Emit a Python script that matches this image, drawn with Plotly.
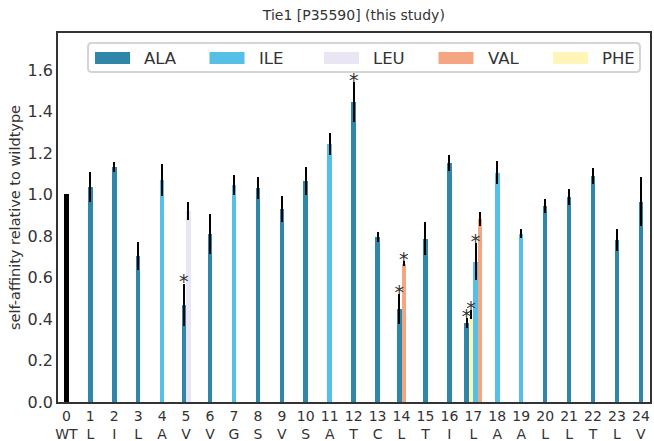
import plotly.graph_objects as go

residues = ["WT","L","I","L","A","V","V","G","S","V","S","A","T","C","L","T","I","L","A","A","L","L","T","L","V"]
positions = list(range(len(residues)))

wt_value = 1.0

ala_pos = [1,2,3,5,6,8,9,10,12,13,14,15,16,17,20,21,22,23,24]
ala_val = [1.036,1.133,0.704,0.467,0.81,1.031,0.93,1.065,1.447,0.795,0.448,0.786,1.152,0.381,0.944,0.988,1.089,0.781,0.964]
ala_err = [0.07,0.024,0.069,0.103,0.095,0.053,0.064,0.068,0.096,0.024,0.073,0.079,0.037,0.023,0.033,0.04,0.038,0.052,0.118]
ala_sig = [5,12,14,17]

ile_pos = [4,7,11,17,18,19]
ile_val = [1.07,1.046,1.243,0.675,1.104,0.81]
ile_err = [0.077,0.047,0.052,0.089,0.055,0.022]
ile_sig = [17]

leu_pos = [5]
leu_val = [0.92]
leu_err = [0.044]
leu_sig = []

val_pos = [14,17]
val_val = [0.667,0.882]
val_err = [0.012,0.035]
val_sig = [14]

phe_pos = [17]
phe_val = [0.421]
phe_err = [0.022]
phe_sig = [17]

series = [
    ("ALA", "#2e87a9", ala_pos, ala_val, ala_err, ala_sig),
    ("ILE", "#56bfe6", ile_pos, ile_val, ile_err, ile_sig),
    ("LEU", "#e9e5f3", leu_pos, leu_val, leu_err, leu_sig),
    ("VAL", "#f4a582", val_pos, val_val, val_err, val_sig),
    ("PHE", "#fff5b8", phe_pos, phe_val, phe_err, phe_sig),
]

W = 0.19

# plot area in pixels (for legend placement)
ML, MR, MT, MB = 58, 4, 33, 39
FW, FH = 654, 441
PW, PH = FW - ML - MR, FH - MT - MB


def px2x(px):
    return (px - ML) / PW


def px2y(py):
    return (FH - MB - py) / PH


# group bars at each position, sorted by value
groups = {}
for name, col, ps, vs, es, sg in series:
    for p, v in zip(ps, vs):
        groups.setdefault(p, []).append((v, name))
offset = {}
for p, items in groups.items():
    items.sort()
    n = len(items)
    for k, (v, name) in enumerate(items):
        offset[(p, name)] = (k - (n - 1) / 2) * W

fig = go.Figure()

fig.add_trace(go.Bar(x=[0], y=[wt_value], width=W, marker=dict(color="black", line=dict(width=0)),
                     showlegend=False))

star_x, star_y = [], []
for name, col, ps, vs, es, sg in series:
    xs = [p + offset[(p, name)] for p in ps]
    fig.add_trace(go.Bar(
        x=xs, y=vs, width=W, name=name, marker=dict(color=col, line=dict(width=0)),
        error_y=dict(type="data", array=es, visible=True, color="black", thickness=2, width=0),
        showlegend=False,
    ))
    for p, v, e, x in zip(ps, vs, es, xs):
        if p in sg:
            star_x.append(x)
            star_y.append(v + e)

fig.add_trace(go.Scatter(x=star_x, y=star_y, mode="text", text=["*"] * len(star_x),
                         textposition="middle center", showlegend=False,
                         textfont=dict(size=19, color="#333333", family="DejaVu Sans")))

# manual legend (wide swatches, single row, rounded frame)
bx0, bx1, by0, by1, r = 88, 640, 43, 72, 4
rx, ry = r / PW, r / PH
X0, X1, Y0, Y1 = px2x(bx0), px2x(bx1), px2y(by1), px2y(by0)
path = (f"M {X0+rx},{Y0} L {X1-rx},{Y0} Q {X1},{Y0} {X1},{Y0+ry} L {X1},{Y1-ry} "
        f"Q {X1},{Y1} {X1-rx},{Y1} L {X0+rx},{Y1} Q {X0},{Y1} {X0},{Y1-ry} "
        f"L {X0},{Y0+ry} Q {X0},{Y0} {X0+rx},{Y0} Z")
fig.add_shape(type="path", path=path, xref="paper", yref="paper",
              line=dict(color="#d4d4d4", width=2), fillcolor="rgba(255,255,255,0)", layer="above")
for i, (name, col, *_rest) in enumerate(series):
    sx = 95 + i * 114.5
    fig.add_shape(type="rect", xref="paper", yref="paper",
                  x0=px2x(sx), x1=px2x(sx + 35), y0=px2y(64), y1=px2y(52),
                  line=dict(width=0), fillcolor=col, layer="above")
    fig.add_annotation(x=px2x(sx + 47), y=px2y(58), xref="paper", yref="paper",
                       text=name, showarrow=False, xanchor="left", yanchor="middle",
                       font=dict(size=16.5, color="#333333"))

fig.update_layout(
    width=FW, height=FH,
    margin=dict(l=ML, r=MR, t=MT, b=MB),
    plot_bgcolor="white", paper_bgcolor="white",
    font=dict(family="DejaVu Sans", color="#333333"),
    title=dict(text="Tie1 [P35590] (this study)", x=0.541, xanchor="center",
               y=1 - 15 / 441, yanchor="middle", font=dict(size=14, color="#333333")),
    barmode="overlay",
    bargap=0,
    showlegend=False,
    xaxis=dict(range=[-0.35, 24.38], tickvals=positions,
               ticktext=[f"{p}<br>{r}" for p, r in zip(positions, residues)],
               tickfont=dict(size=14, color="#333333"), showgrid=False, zeroline=False,
               showline=True, linecolor="#333333", linewidth=1.5, mirror=True,
               ticks="", automargin=False),
    yaxis=dict(range=[0, 1.778], tickvals=[0, 0.2, 0.4, 0.6, 0.8, 1.0, 1.2, 1.4, 1.6],
               tickformat=".1f", tickfont=dict(size=16, color="#333333"),
               showgrid=False, zeroline=False, showline=True, linecolor="#333333",
               linewidth=1.5, mirror=True, ticks="",
               title=dict(text="self-affinity relative to wildtype", font=dict(size=14.5, color="#333333"),
                          standoff=4),
               automargin=False),
)

fig.write_html("out.html")
